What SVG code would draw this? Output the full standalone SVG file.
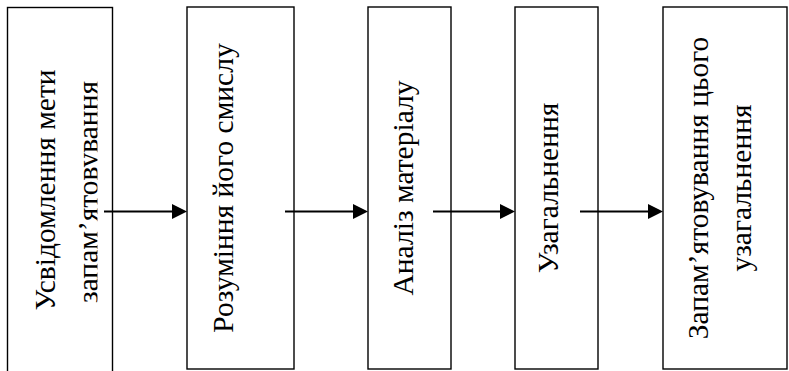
<svg xmlns="http://www.w3.org/2000/svg" width="789" height="371" viewBox="0 0 789 371">
<style>
.box{fill:#fff;stroke:#000;stroke-width:1.4}
.t{font-family:"Liberation Serif","Times New Roman",serif;font-size:29.5px;fill:#000;text-anchor:middle}
.arr{stroke:#000;stroke-width:2.2;fill:none}
</style>
<defs>
<clipPath id="c1"><rect x="0" y="0" width="97.5" height="371"/></clipPath>
</defs>
<rect width="789" height="371" fill="#fff"/>
<g id="n1">
<rect class="box" x="7.5" y="7.5" width="105" height="370"/>
<text class="t" transform="translate(55,190) rotate(-90)">Усвідомлення мети</text>
<g clip-path="url(#c1)">
<text class="t" transform="translate(98,192) rotate(-90)">запам’ятовування</text>
</g>
</g>
<g id="n2">
<rect class="box" x="187" y="7" width="107" height="362"/>
<text class="t" transform="translate(233,188) rotate(-90)">Розуміння його смислу</text>
</g>
<g id="n3">
<rect class="box" x="368" y="7" width="83" height="362"/>
<text class="t" transform="translate(413,188) rotate(-90)">Аналіз матеріалу</text>
</g>
<g id="n4">
<rect class="box" x="515" y="7" width="83" height="362"/>
<text class="t" transform="translate(558,188) rotate(-90)">Узагальнення</text>
</g>
<g id="n5">
<rect class="box" x="663" y="7" width="124" height="362"/>
<text class="t" transform="translate(708,188) rotate(-90)">Запам’ятовування цього</text>
<text class="t" transform="translate(751,188) rotate(-90)">узагальнення</text>
</g>
<g id="connectors">
<line class="arr" x1="104" y1="211.5" x2="173" y2="211.5"/>
<polygon points="172,204 187,211.5 172,219"/>
<line class="arr" x1="285" y1="211.5" x2="354" y2="211.5"/>
<polygon points="353,204 368,211.5 353,219"/>
<line class="arr" x1="433" y1="211.5" x2="501" y2="211.5"/>
<polygon points="500,204 515,211.5 500,219"/>
<line class="arr" x1="580" y1="211.5" x2="649" y2="211.5"/>
<polygon points="648,204 663,211.5 648,219"/>
</g>
</svg>
